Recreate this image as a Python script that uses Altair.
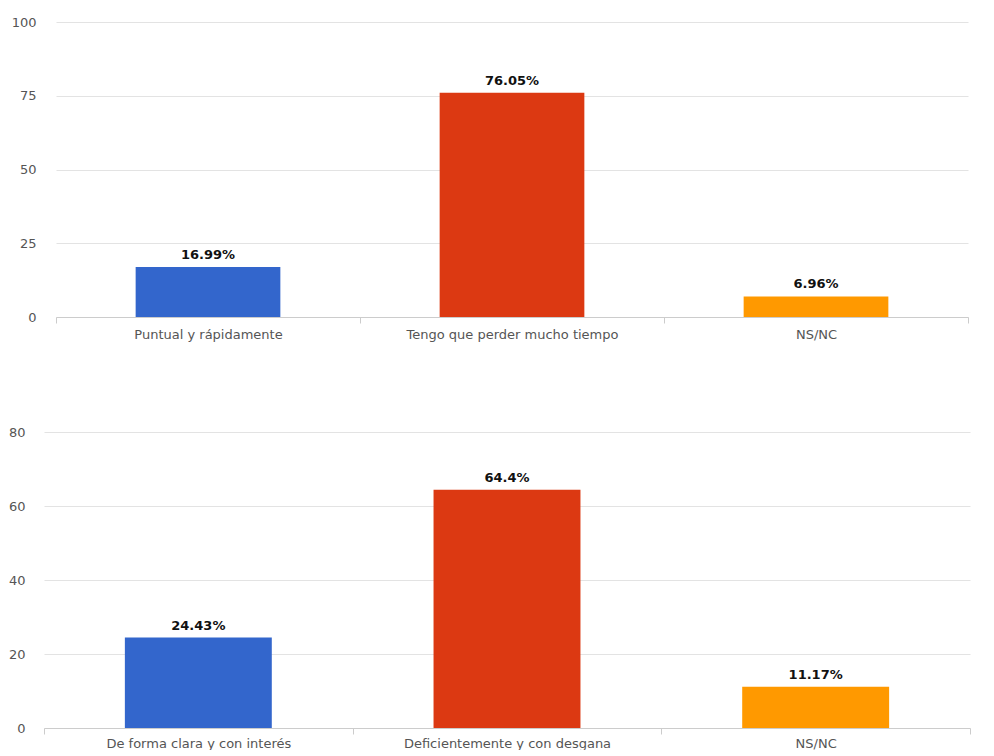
import altair as alt
import pandas as pd

# Data
top_categories = ["Puntual y rápidamente", "Tengo que perder mucho tiempo", "NS/NC"]
top_values = [16.99, 76.05, 6.96]
top_labels = ["16.99%", "76.05%", "6.96%"]

bottom_categories = ["De forma clara y con interés", "Deficientemente y con desgana", "NS/NC"]
bottom_values = [24.43, 64.4, 11.17]
bottom_labels = ["24.43%", "64.4%", "11.17%"]

top_ticks = [0, 25, 50, 75, 100]
bottom_ticks = [0, 20, 40, 60, 80]

PALETTE = ["#3366CC", "#DC3912", "#FF9900"]
FONT = "DejaVu Sans"


def panel(cats, vals, labels, ticks, width, height, x_range, label_pad, x_label_pad, tick_size):
    df = pd.DataFrame({"cat": cats, "value": vals, "label": labels})
    base = alt.Chart(df)
    x = alt.X(
        "cat:N",
        sort=None,
        title=None,
        scale=alt.Scale(paddingInner=0, paddingOuter=0, range=x_range),
        axis=alt.Axis(
            labelAngle=0,
            labelLimit=0,
            tickBand="extent",
            tickSize=tick_size,
            tickColor="#cccccc",
            domainColor="#cccccc",
            labelColor="#555555",
            labelFont=FONT,
            labelFontSize=13,
            labelPadding=x_label_pad,
            grid=False,
        ),
    )
    y = alt.Y(
        "value:Q",
        title=None,
        scale=alt.Scale(domain=[ticks[0], ticks[-1]], nice=False),
        axis=alt.Axis(
            values=ticks,
            domain=False,
            ticks=False,
            labelPadding=label_pad,
            labelColor="#555555",
            labelFont=FONT,
            labelFontSize=13,
            gridColor="#e3e3e3",
        ),
    )
    bars = base.mark_bar(width=alt.RelativeBandSize(0.476)).encode(
        x=x,
        y=y,
        color=alt.Color("cat:N", sort=None, scale=alt.Scale(domain=cats, range=PALETTE), legend=None),
    )
    text = base.mark_text(
        baseline="bottom", dy=-5, font=FONT, fontSize=13, fontWeight="bold", color="#111111"
    ).encode(x=alt.X("cat:N", sort=None), y="value:Q", text="label:N")
    return (bars + text).properties(width=width, height=height)


top = panel(top_categories, top_values, top_labels, top_ticks, 914, 295, [0, 912], 20, 5, 6)
bottom = panel(bottom_categories, bottom_values, bottom_labels, bottom_ticks, 914, 296, [-12, 914], 31, 3, 6)

chart = (
    alt.vconcat(top, bottom, spacing=85)
    .resolve_scale(color="independent", x="independent", y="independent")
    .properties(padding={"top": 8, "left": 0, "right": 0, "bottom": 0})
    .configure_view(stroke=None)
)

chart.save("out.html", embed_options={"renderer": "svg", "actions": False})
